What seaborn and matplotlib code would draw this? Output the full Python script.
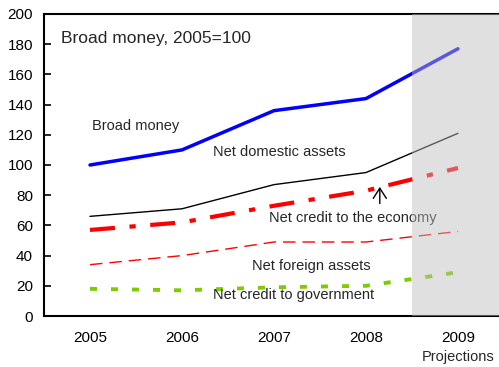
import matplotlib
matplotlib.use("Agg")
import matplotlib.pyplot as plt
import seaborn as sns
import pandas as pd

years = [2005, 2006, 2007, 2008, 2009]
broad_money = [100, 110, 136, 144, 177]
net_domestic_assets = [66, 71, 87, 95, 121]
net_credit_economy = [57, 62, 73, 83, 98]
net_foreign_assets = [34, 40, 49, 49, 56]
net_credit_government = [18, 17, 19, 20, 29]

sns.set_style("white")
plt.rcParams["font.family"] = ["Liberation Sans", "DejaVu Sans"]
plt.rcParams["font.size"] = 10.5

fig = plt.figure(figsize=(4.99, 3.67), dpi=100)
ax = fig.add_axes([44 / 499, 51 / 367, 460 / 499, 302 / 367])

series = [
    (broad_money, "#0000ff", 2.5, "-"),
    (net_domestic_assets, "#000000", 1.0, "-"),
    (net_credit_economy, "#ff0000", 3.0, (0, (6, 3.5, 1.5, 3.5))),
    (net_foreign_assets, "#ff0000", 1.0, (0, (9, 5))),
    (net_credit_government, "#7ccc00", 2.8, (0, (1.8, 3.6))),
]
for vals, col, lw, ls in series:
    df = pd.DataFrame({"year": years, "value": vals})
    sns.lineplot(data=df, x="year", y="value", ax=ax, color=col,
                 linewidth=lw, linestyle=ls, zorder=3)

ax.set_xlim(2004.5, 2009.5)
ax.set_ylim(0, 200)
ax.set_yticks(range(0, 201, 20))
ax.set_xticks(years)
ax.set_xticklabels([str(y) for y in years])
ax.set_xticks([y + 0.5 for y in years[:-1]], minor=True)
ax.tick_params(axis="x", which="major", length=0, pad=11, labelsize=11, colors="black")
ax.tick_params(axis="x", which="minor", direction="in", length=5, width=1.2, color="black")
ax.tick_params(axis="y", which="major", direction="in", length=5, width=1.2,
               pad=8, labelsize=11, left=True, colors="black")
ax.set_xlabel("")
ax.set_ylabel("")
for side in ["left", "bottom", "top", "right"]:
    ax.spines[side].set_color("black")
    ax.spines[side].set_linewidth(1.5)
    ax.spines[side].set_zorder(4)

ax.axvspan(2008.5, 2009.5, color="#bebebe", alpha=0.47, lw=0, zorder=5)

ax.text(2004.685, 184, "Broad money, 2005=100", fontsize=12.5, va="center", ha="left")
ax.text(2005.02, 126, "Broad money", fontsize=10.5, va="center", ha="left")
ax.text(2006.34, 108.5, "Net domestic assets", fontsize=10.5, va="center", ha="left")
ax.text(2006.95, 65, "Net credit to the economy", fontsize=10.5, va="center", ha="left")
ax.text(2006.76, 33, "Net foreign assets", fontsize=10.5, va="center", ha="left")
ax.text(2006.34, 14, "Net credit to government", fontsize=10.5, va="center", ha="left")
ax.annotate("", xy=(2008.15, 85.5), xytext=(2008.15, 74.5),
            arrowprops=dict(arrowstyle="->,head_length=0.7,head_width=0.45",
                            color="black", lw=1.0, shrinkA=0, shrinkB=0))
ax.text(2009.0, -0.135, "Projections", fontsize=10.5, ha="center", va="center",
        transform=ax.get_xaxis_transform())

fig.savefig("out.png", dpi=100)
